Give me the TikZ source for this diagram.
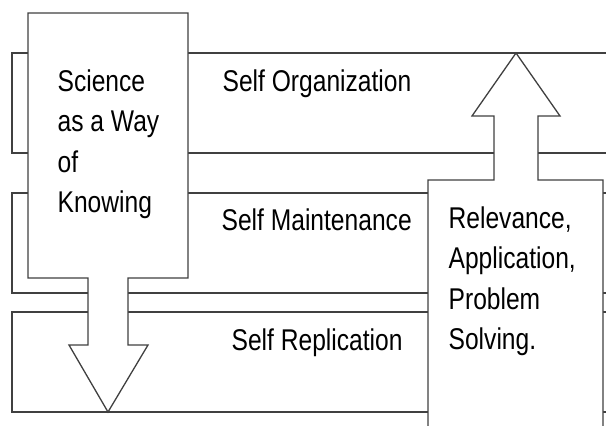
\documentclass[tikz,border=0pt]{standalone}
\usepackage{fontspec}
\setmainfont{Liberation Sans}[FakeStretch=0.82]
\usepackage{tikz}

\begin{document}
\begin{tikzpicture}[x=1pt,y=-1pt,line width=1.3pt,
        band/.style={draw=black!75},
        bigarrow/.style={draw=black!75,fill=white,line join=miter},
        label/.style={anchor=north west,inner sep=0pt,align=left,
            font={\fontsize{30}{40.5}\selectfont}}]
        \path[use as bounding box,clip] (0,0) rectangle (606,426);

        % Three horizontal bands
        \draw[band] (12,53) rectangle (625,153);
        \draw[band] (12,193) rectangle (625,293);
        \draw[band] (12,312) rectangle (625,412);

        % Downward arrow (left)
        \draw[bigarrow] (28,13) -- (188,13) -- (188,278) -- (128,278) -- (128,345)
            -- (148,345) -- (108,412) -- (69,345) -- (88,345) -- (88,278)
            -- (28,278) -- cycle;

        % Upward arrow (right)
        \draw[bigarrow] (428,432) -- (428,180) -- (494,180) -- (494,116) -- (472,116)
            -- (516,53) -- (560,116) -- (538,116) -- (538,180) -- (603,180)
            -- (603,432);

        % Texts
        \node[label] (science) at (57,69) {Science\\as a Way\\of\\Knowing};
        \node[label] (relevance) at (448,206) {Relevance,\\Application,\\Problem\\Solving.};
        \node[label] (selforg) at (222,69) {Self Organization};
        \node[label] (selfmaint) at (221,208) {Self Maintenance};
        \node[label] (selfrepl) at (231,328) {Self Replication};
    \end{tikzpicture}
\end{document}
